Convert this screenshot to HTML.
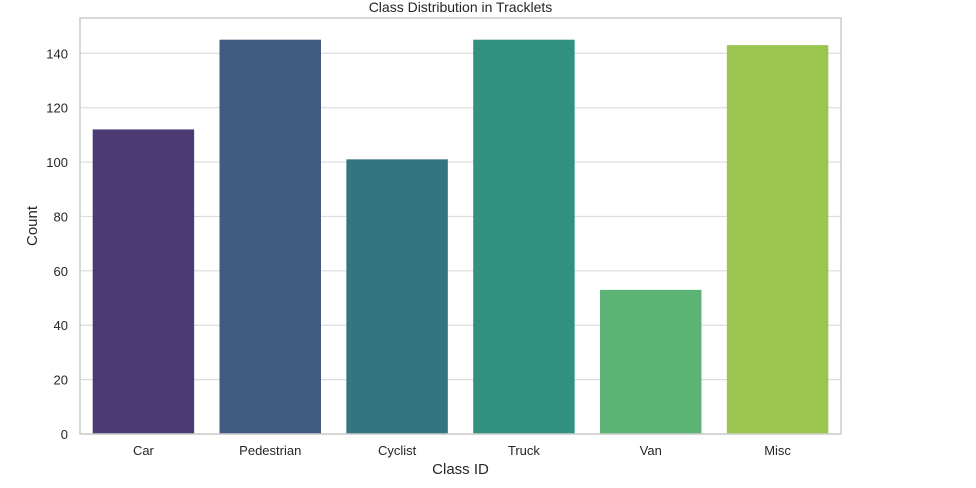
<!DOCTYPE html>
<html><head><meta charset="utf-8"><style>
body{margin:0;background:#fff;width:976px;height:483px;overflow:hidden}
text{font-family:"Liberation Sans","DejaVu Sans",sans-serif;fill:#262626}
</style></head><body>
<svg id="chart" width="976" height="483" xmlns="http://www.w3.org/2000/svg"></svg>
<script>
const categories=["Car","Pedestrian","Cyclist","Truck","Van","Misc"];
const counts=[112,145,101,145,53,143];
const yTicks=[0,20,40,60,80,100,120,140];
const colors=["#4b3a73","#405a80","#35757f","#31917e","#5bb374","#9ac64f"];
const svg=document.getElementById('chart');
const NS="http://www.w3.org/2000/svg";
const L=80,R=841,T=18,B=434;
const yMax=Math.max(...counts)*1.055;
const y=v=>B-(v/yMax)*(B-T);
const band=(R-L)/categories.length;
const x=i=>L+band*i+band*0.1;
function mk(tag,attrs,parent){const e=document.createElementNS(NS,tag);for(const k in attrs)e.setAttribute(k,attrs[k]);(parent||svg).appendChild(e);return e;}
yTicks.forEach(t=>{
  const g=mk('line',{x1:L,x2:R,y1:y(t),y2:y(t),stroke:'#dcdcdc','stroke-width':1.2});
  
  
  const tx=mk('text',{x:L-12,y:y(t)+5,'text-anchor':'end','font-size':13});
  tx.textContent=t;
  
  
});
categories.forEach((c,i)=>{
  const r=mk('rect',{x:x(i),y:y(counts[i]),width:band*0.8,height:B-y(counts[i]),fill:colors[i]});
  
  
  const tx=mk('text',{x:x(i)+band*0.4,y:B+21,'text-anchor':'middle','font-size':13});
  tx.textContent=c;
  
  
});
const fr=mk('rect',{x:L,y:T,width:R-L,height:B-T,fill:'none',stroke:'#cccccc','stroke-width':1.5});


const ti=mk('text',{x:(L+R)/2,y:12,'text-anchor':'middle','font-size':14});
ti.textContent='Class Distribution in Tracklets';


const xl=mk('text',{x:(L+R)/2,y:474,'text-anchor':'middle','font-size':15});
xl.textContent='Class ID';


const yl=mk('text',{x:37,y:(T+B)/2,'text-anchor':'middle','font-size':15,transform:`rotate(-90 37 ${(T+B)/2})`});
yl.textContent='Count';


</script>
</body></html>
